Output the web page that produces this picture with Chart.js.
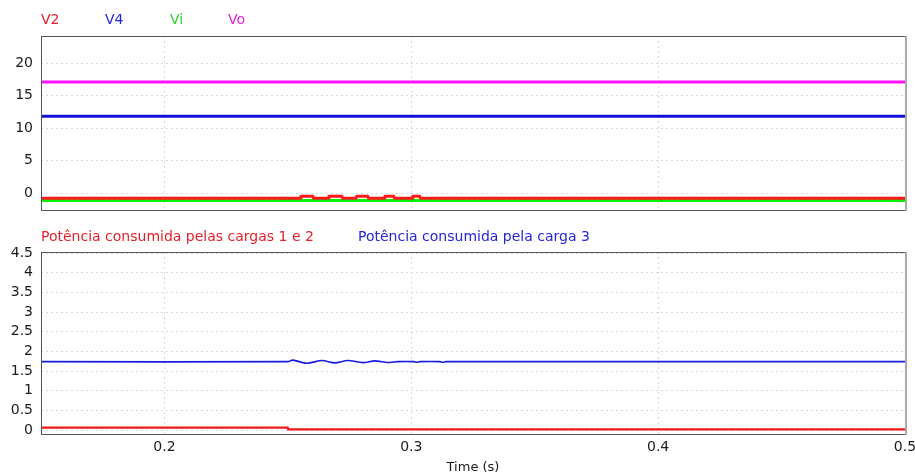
<!DOCTYPE html>
<html>
<head>
<meta charset="utf-8">
<script src="https://cdn.jsdelivr.net/npm/chart.js@4.4.1/dist/chart.umd.min.js"></script>
<style>
  html, body { margin: 0; padding: 0; background: #fff; }
  #wrap { position: relative; width: 915px; height: 475px; font-family: "DejaVu Sans", sans-serif; }
  canvas { position: absolute; left: 0; }
  #top-canvas { top: 0; }
  #bot-canvas { top: 215px; }
  .leg { position: absolute; font-size: 14px; white-space: nowrap; }
</style>
</head>
<body>
<div id="wrap">
  <canvas id="top-canvas" width="915" height="215"></canvas>
  <canvas id="bot-canvas" width="915" height="260"></canvas>
  <span class="leg" style="left:41px;top:11px;color:#e4202a">V2</span>
  <span class="leg" style="left:105px;top:11px;color:#2424d8">V4</span>
  <span class="leg" style="left:170px;top:11px;color:#30d030">Vi</span>
  <span class="leg" style="left:228px;top:11px;color:#e020e0">Vo</span>
  <span class="leg" style="left:41px;top:228px;color:#e4202a">Potência consumida pelas cargas 1 e 2</span>
  <span class="leg" style="left:358px;top:228px;color:#2424d8">Potência consumida pela carga 3</span>
</div>
<script>
// Upper panel: node voltages (V)
const timeFlat = [0.15, 0.5];
const vo = [17.1, 17.1];
const v4 = [11.85, 11.85];
const vi = [-1.15, -1.15];
const timeV2 = [0.15, 0.2550, 0.2553, 0.2601, 0.2604, 0.2663, 0.2666, 0.2719, 0.2722,
  0.2776, 0.2779, 0.2824, 0.2827, 0.2890, 0.2893, 0.2929, 0.2932, 0.3003, 0.3006, 0.3034, 0.3037, 0.5];
const v2 = [-0.8, -0.8, -0.5, -0.5, -0.8, -0.8, -0.5, -0.5, -0.8,
  -0.8, -0.5, -0.5, -0.8, -0.8, -0.5, -0.5, -0.8, -0.8, -0.5, -0.5, -0.8, -0.8];

// Lower panel: consumed power
const timeP12 = [0.15, 0.25, 0.25, 0.5];
const p12 = [0.06, 0.06, 0.018, 0.018];
const timeP3 = [0.15, 0.2500, 0.2520, 0.2577, 0.2638, 0.2690, 0.2743, 0.2804, 0.2852,
  0.2880, 0.2913, 0.2945, 0.3010, 0.3022, 0.3035, 0.3115, 0.3128, 0.3140, 0.5];
const p3 = [1.74, 1.74, 1.78, 1.70, 1.77, 1.71, 1.77, 1.715, 1.76,
  1.74, 1.72, 1.74, 1.74, 1.725, 1.74, 1.74, 1.725, 1.74, 1.74];

const xTicks = [0.2, 0.3, 0.4, 0.5];
const yTicksTop = [0, 5, 10, 15, 20];
const yTicksBot = [0, 0.5, 1, 1.5, 2, 2.5, 3, 3.5, 4, 4.5];

const pts = (xs, ys) => xs.map((x, i) => ({ x, y: ys[i] }));

Chart.defaults.font.family = '"DejaVu Sans", sans-serif';
Chart.defaults.font.size = 14;
Chart.defaults.color = "#1a1a1a";

// Plot frame: dark box with the grey bar on the right edge
const frame = {
  id: "frame",
  afterDraw(chart) {
    const { ctx, chartArea: a } = chart;
    ctx.save();
    ctx.strokeStyle = "#555";
    ctx.lineWidth = 1;
    ctx.strokeRect(a.left + 0.5, a.top + 0.5, a.right - a.left, a.bottom - a.top);
    ctx.strokeStyle = "#aaa";
    ctx.lineWidth = 2;
    ctx.beginPath();
    ctx.moveTo(a.right + 1, a.top);
    ctx.lineTo(a.right + 1, a.bottom + 1);
    ctx.stroke();
    ctx.restore();
  },
};

const grid = { color: "#dadada", tickLength: 0, drawTicks: false };
const dotted = { dash: [2, 3], display: false };

function xScale(showLabels) {
  return {
    type: "linear",
    min: 0.15,
    max: 0.5,
    grid,
    border: dotted,
    afterBuildTicks: (s) => { s.ticks = xTicks.map((value) => ({ value })); },
    afterFit: (s) => {
      s.height = showLabels ? 41 : 0;
      s.paddingLeft = 0;
      s.paddingRight = 0;
    },
    ticks: { display: showLabels, padding: 5, maxRotation: 0, callback: (v) => String(v) },
    title: { display: showLabels, text: "Time (s)", padding: { top: 0, bottom: 0 }, font: { size: 13 } },
  };
}

function yScale(min, max, ticks) {
  return {
    type: "linear",
    min,
    max,
    grid,
    border: dotted,
    afterBuildTicks: (s) => { s.ticks = ticks.map((value) => ({ value })); },
    afterFit: (s) => {
      s.width = 41;
      s.paddingTop = 0;
      s.paddingBottom = 0;
    },
    ticks: { padding: 8, callback: (v) => String(v) },
  };
}

const common = {
  animation: false,
  responsive: false,
  events: [],
  elements: { point: { radius: 0 }, line: { borderJoinStyle: "round" } },
  plugins: { legend: { display: false }, tooltip: { enabled: false } },
};

new Chart(document.getElementById("top-canvas"), {
  type: "line",
  data: {
    datasets: [
      { data: pts(timeV2, v2), borderColor: "#ff1a1a", borderWidth: 3 },
      { data: pts(timeFlat, vi), borderColor: "#00f000", borderWidth: 3 },
      { data: pts(timeFlat, v4), borderColor: "#1010d8", borderWidth: 3 },
      { data: pts(timeFlat, vo), borderColor: "#ff10ff", borderWidth: 3 },
    ],
  },
  options: {
    ...common,
    layout: { padding: { top: 36, right: 10, bottom: 5, left: 0 } },
    scales: { x: xScale(false), y: yScale(-2.6, 24.2, yTicksTop) },
  },
  plugins: [frame],
});

new Chart(document.getElementById("bot-canvas"), {
  type: "line",
  data: {
    datasets: [
      { data: pts(timeP12, p12), borderColor: "#f01818", borderWidth: 2.2 },
      { data: pts(timeP3, p3), borderColor: "#1a1ae0", borderWidth: 1.6, tension: 0.3 },
    ],
  },
  options: {
    ...common,
    layout: { padding: { top: 37, right: 10, bottom: 0, left: 0 } },
    scales: { x: xScale(true), y: yScale(-0.1, 4.53, yTicksBot) },
  },
  plugins: [frame],
});
</script>
</body>
</html>
